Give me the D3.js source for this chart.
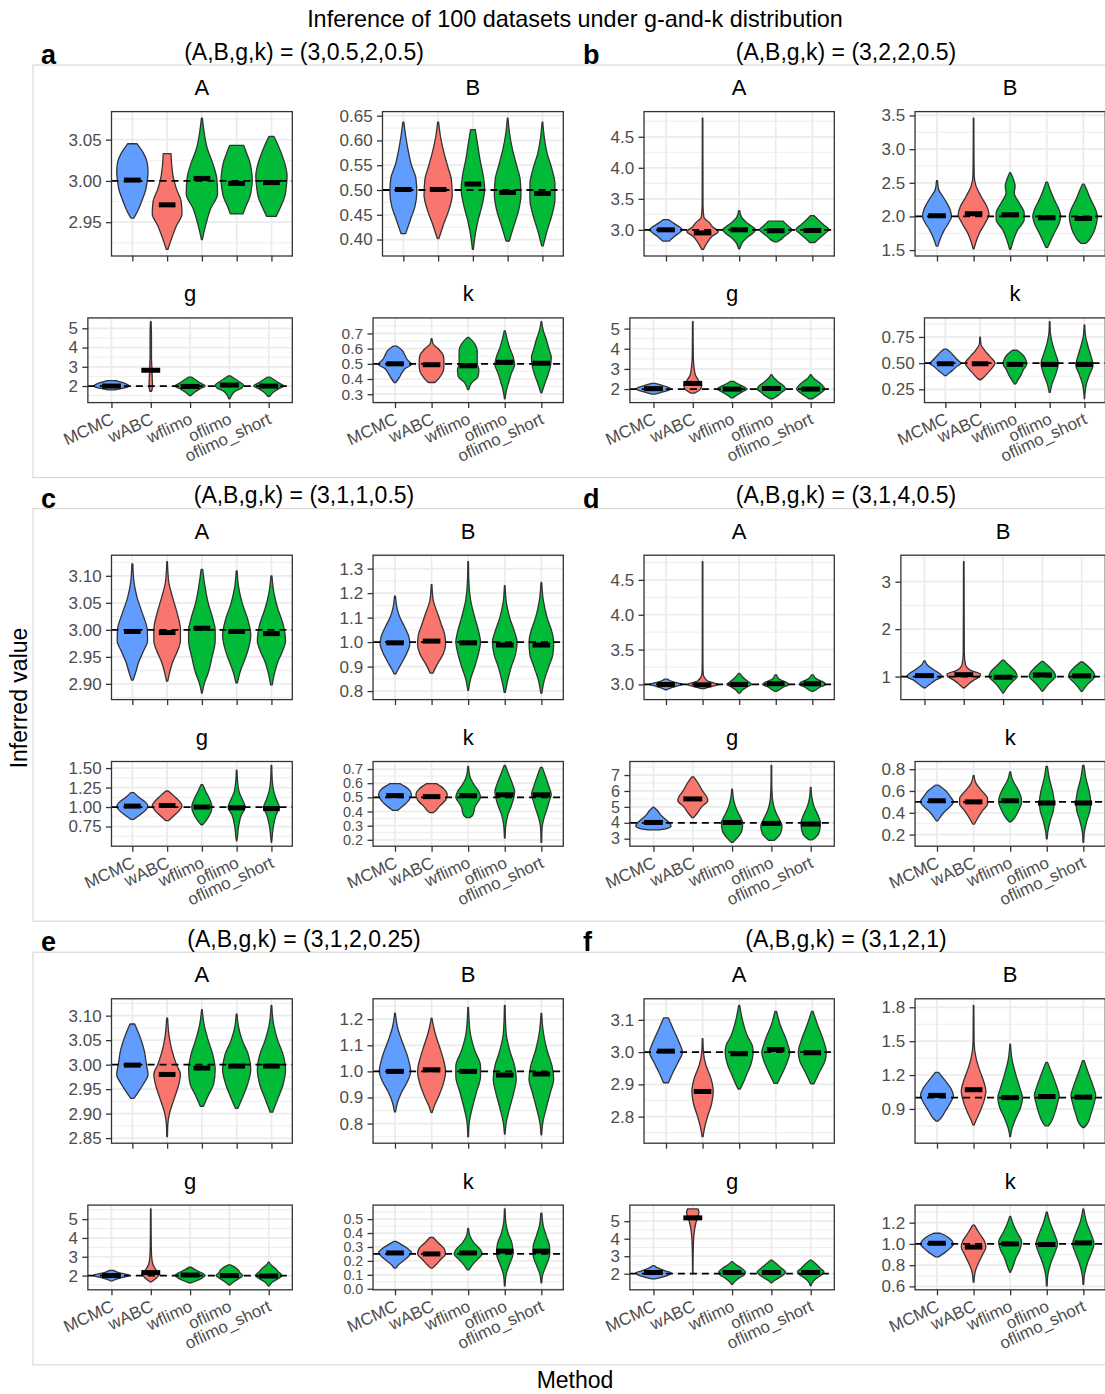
<!DOCTYPE html>
<html><head><meta charset="utf-8">
<script src="https://cdn.jsdelivr.net/npm/d3@7"></script>
<style>
body{margin:0;background:#fff}
svg{display:block}
text{font-family:"Liberation Sans",Arial,Helvetica,sans-serif}
</style>
</head><body>
<svg id="chart" width="1105" height="1394"></svg>
<script>
// ---------------- DATA ----------------
const methods = ["MCMC","wABC","wflimo","oflimo","oflimo_short"];
const params = ["A","B","g","k"];
const panelTags = ["a","b","c","d","e","f"];
const panelTitles = ["(A,B,g,k) = (3,0.5,2,0.5)","(A,B,g,k) = (3,2,2,0.5)","(A,B,g,k) = (3,1,1,0.5)",
                     "(A,B,g,k) = (3,1,4,0.5)","(A,B,g,k) = (3,1,2,0.25)","(A,B,g,k) = (3,1,2,1)"];
const trueValues = [[3,0.5,2,0.5],[3,2,2,0.5],[3,1,1,0.5],[3,1,4,0.5],[3,1,2,0.25],[3,1,2,1]];

// tick labels per panel, per parameter (A,B,g,k)
const ticks_a = [["2.95","3.00","3.05"],["0.40","0.45","0.50","0.55","0.60","0.65"],["2","3","4","5"],["0.3","0.4","0.5","0.6","0.7"]];
const ticks_b = [["3.0","3.5","4.0","4.5"],["1.5","2.0","2.5","3.0","3.5"],["2","3","4","5"],["0.25","0.50","0.75"]];
const ticks_c = [["2.90","2.95","3.00","3.05","3.10"],["0.8","0.9","1.0","1.1","1.2","1.3"],["0.75","1.00","1.25","1.50"],["0.2","0.3","0.4","0.5","0.6","0.7"]];
const ticks_d = [["3.0","3.5","4.0","4.5"],["1","2","3"],["3","4","5","6","7"],["0.2","0.4","0.6","0.8"]];
const ticks_e = [["2.85","2.90","2.95","3.00","3.05","3.10"],["0.8","0.9","1.0","1.1","1.2"],["2","3","4","5"],["0.0","0.1","0.2","0.3","0.4","0.5"]];
const ticks_f = [["2.8","2.9","3.0","3.1"],["0.9","1.2","1.5","1.8"],["2","3","4","5"],["0.6","0.8","1.0","1.2"]];

// medians per panel: [A],[B],[g],[k] x methods
const medians_a = [[3.001,2.971,3.003,2.997,2.998],[0.501,0.501,0.512,0.495,0.493],[2.0,2.82,1.98,2.05,2.0],[0.5,0.494,0.487,0.51,0.504]];
const medians_b = [[3.0,2.95,3.0,2.985,2.99],[2.01,2.04,2.025,1.98,1.97],[2.02,2.28,2.0,2.03,2.0],[0.494,0.494,0.488,0.488,0.488]];
const medians_c = [[2.997,2.995,3.003,2.997,2.993],[0.997,1.004,0.997,0.988,0.988],[1.012,1.02,1.0,0.99,0.98],[0.512,0.505,0.512,0.518,0.518]];
const medians_d = [[3.0,2.995,3.0,3.01,3.01],[1.02,1.04,0.986,1.035,1.015],[4.02,5.5,4.02,3.96,3.92],[0.51,0.5,0.51,0.49,0.49]];
const medians_e = [[2.999,2.98,2.993,2.997,2.997],[1.0,1.006,1.0,0.986,0.99],[2.0,2.16,2.03,2.0,1.98],[0.257,0.25,0.257,0.27,0.27]];
const medians_f = [[3.003,2.878,2.995,3.008,2.998],[1.02,1.07,1.0,1.01,1.005],[2.07,5.19,2.07,2.07,2.07],[1.006,0.97,1.0,0.994,1.009]];

// violin profiles: [value, relative density width] from max to min
const violins_a = [
 [ [[3.045,0.3],[3.034,0.7],[3.022,0.95],[3.011,1.0],[3.0,0.95],[2.989,0.85],[2.978,0.65],[2.966,0.4],[2.955,0.1]],
   [[3.033,0.25],[3.018,0.3],[3.004,0.4],[2.99,0.6],[2.975,0.9],[2.96,0.95],[2.946,0.6],[2.931,0.3],[2.917,0.05]],
   [[3.076,0.03],[3.058,0.15],[3.039,0.35],[3.021,0.7],[3.003,0.95],[2.984,1.0],[2.966,0.55],[2.947,0.25],[2.929,0.03]],
   [[3.043,0.45],[3.033,0.65],[3.022,0.85],[3.012,0.95],[3.001,1.0],[2.991,0.95],[2.981,0.85],[2.97,0.6],[2.96,0.4]],
   [[3.054,0.15],[3.042,0.45],[3.03,0.7],[3.018,0.9],[3.006,1.0],[2.993,0.95],[2.981,0.85],[2.969,0.6],[2.957,0.3]] ],
 [ [[0.637,0.03],[0.609,0.15],[0.581,0.3],[0.552,0.5],[0.524,0.8],[0.496,0.86],[0.468,0.75],[0.44,0.45],[0.412,0.15]],
   [[0.637,0.03],[0.608,0.15],[0.578,0.35],[0.549,0.6],[0.52,0.85],[0.49,0.9],[0.461,0.7],[0.431,0.35],[0.402,0.05]],
   [[0.622,0.15],[0.592,0.3],[0.562,0.45],[0.531,0.65],[0.501,0.75],[0.471,0.6],[0.441,0.35],[0.41,0.15],[0.38,0.03]],
   [[0.645,0.02],[0.614,0.12],[0.583,0.3],[0.552,0.55],[0.521,0.8],[0.49,0.85],[0.459,0.7],[0.428,0.4],[0.397,0.1]],
   [[0.637,0.02],[0.606,0.12],[0.574,0.3],[0.543,0.6],[0.512,0.8],[0.481,0.8],[0.449,0.6],[0.418,0.3],[0.387,0.05]] ],
 [ [[2.28,0.25],[2.2,0.55],[2.1,0.85],[2.0,1.0],[1.9,0.75],[1.8,0.2]],
   [[5.34,0.02],[4.5,0.04],[3.5,0.04],[3.0,0.06],[2.5,0.08],[2.0,0.1],[1.73,0.05]],
   [[2.46,0.1],[2.3,0.35],[2.15,0.6],[2.0,0.85],[1.85,0.55],[1.7,0.3],[1.51,0.05]],
   [[2.53,0.05],[2.35,0.35],[2.2,0.6],[2.05,0.8],[1.9,0.7],[1.75,0.35],[1.55,0.15],[1.34,0.03]],
   [[2.46,0.08],[2.3,0.35],[2.15,0.6],[2.0,0.85],[1.85,0.55],[1.7,0.3],[1.47,0.05]] ],
 [ [[0.617,0.1],[0.587,0.45],[0.557,0.6],[0.527,0.75],[0.497,1.0],[0.467,0.6],[0.437,0.4],[0.407,0.25],[0.377,0.05]],
   [[0.666,0.02],[0.63,0.1],[0.594,0.45],[0.558,0.7],[0.522,0.75],[0.485,0.75],[0.449,0.7],[0.413,0.5],[0.377,0.2]],
   [[0.674,0.05],[0.631,0.4],[0.588,0.55],[0.545,0.55],[0.502,0.55],[0.459,0.65],[0.416,0.6],[0.373,0.2],[0.33,0.03]],
   [[0.717,0.03],[0.661,0.15],[0.605,0.3],[0.549,0.5],[0.494,0.6],[0.438,0.4],[0.382,0.25],[0.326,0.1],[0.27,0.02]],
   [[0.777,0.02],[0.718,0.12],[0.66,0.3],[0.601,0.45],[0.543,0.6],[0.484,0.55],[0.426,0.4],[0.367,0.2],[0.309,0.03]] ]
];
const violins_b = [
 [ [[3.166,0.15],[3.1,0.5],[3.04,0.85],[3.0,1.0],[2.95,0.8],[2.9,0.55],[2.818,0.2]],
   [[4.8,0.015],[4.0,0.02],[3.4,0.025],[3.2,0.08],[3.12,0.4],[3.05,0.6],[2.97,0.95],[2.9,0.6],[2.8,0.3],[2.684,0.05]],
   [[3.31,0.03],[3.2,0.15],[3.12,0.45],[3.05,0.8],[3.0,1.0],[2.95,0.85],[2.88,0.5],[2.8,0.2],[2.695,0.03]],
   [[3.14,0.45],[3.1,0.6],[3.05,0.8],[3.0,1.0],[2.95,0.8],[2.9,0.55],[2.85,0.35],[2.807,0.1]],
   [[3.23,0.1],[3.15,0.4],[3.08,0.7],[3.0,1.0],[2.95,0.8],[2.88,0.5],[2.796,0.15]] ],
 [ [[2.53,0.03],[2.4,0.1],[2.3,0.35],[2.2,0.6],[2.1,0.8],[2.0,0.88],[1.9,0.7],[1.8,0.45],[1.7,0.25],[1.56,0.05]],
   [[3.46,0.015],[3.0,0.02],[2.6,0.04],[2.45,0.15],[2.3,0.45],[2.15,0.8],[2.03,0.94],[1.9,0.7],[1.75,0.35],[1.6,0.12],[1.52,0.03]],
   [[2.65,0.03],[2.55,0.2],[2.45,0.3],[2.35,0.25],[2.2,0.55],[2.05,0.85],[1.95,0.85],[1.8,0.45],[1.65,0.2],[1.51,0.03]],
   [[2.51,0.05],[2.4,0.2],[2.25,0.45],[2.1,0.75],[2.0,0.85],[1.9,0.75],[1.75,0.45],[1.62,0.2],[1.54,0.05]],
   [[2.48,0.05],[2.4,0.2],[2.25,0.45],[2.1,0.75],[2.0,0.85],[1.9,0.8],[1.75,0.6],[1.65,0.35],[1.6,0.15]] ],
 [ [[2.28,0.1],[2.2,0.45],[2.1,0.8],[2.0,1.0],[1.9,0.7],[1.8,0.3],[1.75,0.1]],
   [[5.34,0.015],[4.5,0.02],[3.6,0.03],[3.1,0.07],[2.7,0.15],[2.4,0.35],[2.2,0.5],[2.0,0.45],[1.8,0.1]],
   [[2.38,0.1],[2.25,0.35],[2.1,0.7],[2.0,0.85],[1.9,0.65],[1.75,0.35],[1.56,0.05]],
   [[2.71,0.03],[2.55,0.15],[2.35,0.4],[2.15,0.7],[2.0,0.8],[1.85,0.6],[1.7,0.4],[1.52,0.08]],
   [[2.71,0.03],[2.55,0.15],[2.35,0.45],[2.15,0.7],[2.0,0.8],[1.85,0.65],[1.7,0.4],[1.52,0.1]] ],
 [ [[0.633,0.1],[0.6,0.35],[0.56,0.6],[0.52,0.85],[0.5,1.0],[0.47,0.75],[0.43,0.45],[0.4,0.2],[0.38,0.05]],
   [[0.747,0.02],[0.68,0.05],[0.62,0.3],[0.56,0.65],[0.5,0.95],[0.45,0.75],[0.4,0.45],[0.36,0.2],[0.34,0.03]],
   [[0.623,0.15],[0.58,0.5],[0.53,0.7],[0.49,0.75],[0.44,0.55],[0.39,0.4],[0.34,0.2],[0.302,0.05]],
   [[0.895,0.02],[0.8,0.04],[0.7,0.15],[0.6,0.35],[0.5,0.55],[0.4,0.4],[0.3,0.15],[0.222,0.03]],
   [[0.864,0.02],[0.75,0.08],[0.65,0.25],[0.55,0.45],[0.48,0.55],[0.4,0.35],[0.3,0.12],[0.2,0.03],[0.16,0.01]] ]
];
const violins_c = [
 [ [[3.122,0.03],[3.09,0.1],[3.06,0.3],[3.03,0.65],[3.0,0.95],[2.98,0.97],[2.96,0.7],[2.94,0.4],[2.92,0.2],[2.907,0.05]],
   [[3.126,0.02],[3.09,0.1],[3.06,0.35],[3.03,0.65],[3.0,0.85],[2.98,0.85],[2.96,0.65],[2.94,0.35],[2.92,0.15],[2.905,0.04]],
   [[3.112,0.05],[3.08,0.2],[3.05,0.4],[3.02,0.7],[3.0,0.85],[2.98,0.85],[2.95,0.65],[2.92,0.4],[2.9,0.15],[2.883,0.02]],
   [[3.109,0.03],[3.08,0.12],[3.05,0.35],[3.02,0.7],[2.99,0.9],[2.96,0.7],[2.94,0.45],[2.92,0.2],[2.902,0.05]],
   [[3.1,0.03],[3.07,0.15],[3.04,0.4],[3.01,0.75],[2.98,0.9],[2.96,0.7],[2.94,0.4],[2.92,0.2],[2.898,0.05]] ],
 [ [[1.188,0.03],[1.14,0.12],[1.1,0.3],[1.06,0.6],[1.02,0.85],[0.99,0.9],[0.96,0.75],[0.92,0.45],[0.89,0.2],[0.87,0.05]],
   [[1.235,0.02],[1.17,0.1],[1.12,0.35],[1.07,0.6],[1.03,0.8],[0.99,0.85],[0.95,0.7],[0.91,0.35],[0.873,0.08]],
   [[1.328,0.02],[1.25,0.04],[1.17,0.15],[1.1,0.4],[1.04,0.65],[1.0,0.75],[0.96,0.65],[0.9,0.4],[0.85,0.15],[0.803,0.02]],
   [[1.23,0.02],[1.16,0.1],[1.1,0.3],[1.04,0.6],[1.0,0.75],[0.95,0.65],[0.9,0.4],[0.85,0.2],[0.795,0.03]],
   [[1.244,0.02],[1.17,0.12],[1.1,0.35],[1.04,0.65],[1.0,0.75],[0.95,0.7],[0.9,0.45],[0.85,0.2],[0.792,0.03]] ],
 [ [[1.185,0.1],[1.12,0.45],[1.06,0.85],[1.01,1.0],[0.96,0.85],[0.9,0.5],[0.843,0.1]],
   [[1.206,0.08],[1.14,0.45],[1.07,0.8],[1.02,0.95],[0.96,0.8],[0.9,0.5],[0.827,0.1]],
   [[1.288,0.05],[1.2,0.25],[1.1,0.5],[1.0,0.65],[0.9,0.5],[0.82,0.25],[0.773,0.05]],
   [[1.474,0.02],[1.35,0.05],[1.2,0.15],[1.08,0.4],[1.0,0.55],[0.9,0.3],[0.75,0.12],[0.6,0.04],[0.567,0.01]],
   [[1.535,0.02],[1.35,0.05],[1.2,0.15],[1.08,0.35],[1.0,0.5],[0.9,0.3],[0.75,0.12],[0.6,0.04],[0.547,0.01]] ],
 [ [[0.597,0.3],[0.56,0.8],[0.52,1.0],[0.48,0.85],[0.44,0.5],[0.408,0.15]],
   [[0.597,0.3],[0.56,0.75],[0.52,0.95],[0.48,0.85],[0.44,0.5],[0.4,0.2],[0.392,0.1]],
   [[0.719,0.02],[0.65,0.1],[0.59,0.35],[0.54,0.65],[0.5,0.75],[0.46,0.55],[0.43,0.4],[0.4,0.35],[0.37,0.25],[0.357,0.1]],
   [[0.726,0.03],[0.66,0.25],[0.6,0.45],[0.54,0.6],[0.5,0.55],[0.44,0.4],[0.38,0.2],[0.3,0.06],[0.212,0.02]],
   [[0.712,0.05],[0.65,0.25],[0.58,0.45],[0.52,0.6],[0.48,0.5],[0.42,0.35],[0.35,0.15],[0.28,0.04],[0.182,0.02]] ]
];
const violins_d = [
 [ [[3.076,0.1],[3.04,0.4],[3.01,0.9],[3.0,1.0],[2.98,0.7],[2.95,0.3],[2.924,0.05]],
   [[4.76,0.015],[4.0,0.015],[3.3,0.02],[3.15,0.04],[3.05,0.3],[3.0,0.95],[2.97,0.5],[2.94,0.1]],
   [[3.157,0.05],[3.1,0.25],[3.04,0.55],[3.0,0.75],[2.96,0.45],[2.92,0.2],[2.877,0.05]],
   [[3.138,0.05],[3.08,0.2],[3.03,0.65],[3.0,0.8],[2.96,0.45],[2.92,0.2],[2.9,0.05]],
   [[3.138,0.05],[3.08,0.25],[3.03,0.7],[3.0,0.8],[2.96,0.45],[2.92,0.2],[2.9,0.05]] ],
 [ [[1.333,0.03],[1.25,0.15],[1.15,0.5],[1.05,0.9],[1.0,1.0],[0.92,0.6],[0.85,0.35],[0.764,0.05]],
   [[3.42,0.015],[2.5,0.02],[1.5,0.03],[1.25,0.1],[1.12,0.45],[1.05,0.95],[1.0,0.9],[0.92,0.55],[0.85,0.3],[0.764,0.05]],
   [[1.347,0.05],[1.25,0.3],[1.1,0.7],[1.0,0.8],[0.9,0.55],[0.8,0.3],[0.7,0.1],[0.653,0.02]],
   [[1.32,0.05],[1.2,0.4],[1.1,0.65],[1.0,0.75],[0.9,0.5],[0.8,0.25],[0.694,0.03]],
   [[1.31,0.05],[1.2,0.4],[1.1,0.65],[1.0,0.75],[0.9,0.5],[0.8,0.25],[0.69,0.03]] ],
 [ [[4.98,0.03],[4.8,0.2],[4.5,0.4],[4.2,0.7],[4.0,0.9],[3.8,1.0],[3.65,0.8],[3.55,0.3]],
   [[6.89,0.05],[6.5,0.3],[6.0,0.55],[5.6,0.8],[5.4,0.85],[5.0,0.5],[4.6,0.25],[4.33,0.05]],
   [[6.11,0.02],[5.5,0.08],[5.0,0.2],[4.5,0.4],[4.0,0.6],[3.5,0.55],[3.0,0.25],[2.77,0.05]],
   [[7.61,0.015],[6.5,0.02],[5.5,0.06],[4.8,0.2],[4.2,0.45],[3.8,0.6],[3.3,0.5],[2.89,0.15]],
   [[6.22,0.02],[5.5,0.08],[5.0,0.2],[4.5,0.4],[4.0,0.55],[3.5,0.5],[3.1,0.3],[2.93,0.1]] ],
 [ [[0.653,0.1],[0.6,0.55],[0.55,0.8],[0.5,1.0],[0.45,0.75],[0.4,0.4],[0.35,0.15],[0.327,0.05]],
   [[0.744,0.02],[0.67,0.15],[0.6,0.5],[0.53,0.85],[0.48,0.85],[0.42,0.55],[0.35,0.25],[0.297,0.05]],
   [[0.774,0.03],[0.7,0.15],[0.62,0.45],[0.55,0.65],[0.5,0.7],[0.45,0.6],[0.4,0.45],[0.35,0.25],[0.318,0.05]],
   [[0.826,0.04],[0.72,0.15],[0.6,0.35],[0.5,0.45],[0.42,0.4],[0.32,0.2],[0.22,0.06],[0.16,0.02]],
   [[0.835,0.04],[0.72,0.15],[0.6,0.35],[0.5,0.45],[0.42,0.4],[0.32,0.2],[0.22,0.06],[0.129,0.02]] ]
];
const violins_e = [
 [ [[3.083,0.15],[3.06,0.45],[3.03,0.75],[3.0,0.9],[2.98,1.0],[2.96,0.7],[2.945,0.4],[2.931,0.1]],
   [[3.095,0.03],[3.06,0.12],[3.03,0.3],[3.0,0.6],[2.98,0.85],[2.96,0.75],[2.93,0.45],[2.9,0.15],[2.88,0.05],[2.853,0.02]],
   [[3.112,0.02],[3.08,0.15],[3.05,0.4],[3.02,0.7],[2.99,0.85],[2.96,0.75],[2.94,0.45],[2.915,0.1]],
   [[3.103,0.03],[3.08,0.1],[3.05,0.35],[3.02,0.75],[2.99,0.9],[2.96,0.7],[2.935,0.4],[2.911,0.08]],
   [[3.121,0.02],[3.08,0.15],[3.05,0.4],[3.02,0.75],[2.99,0.9],[2.96,0.75],[2.93,0.4],[2.903,0.08]] ],
 [ [[1.223,0.02],[1.17,0.15],[1.12,0.4],[1.06,0.75],[1.0,0.95],[0.96,0.75],[0.92,0.4],[0.88,0.15],[0.845,0.03]],
   [[1.204,0.02],[1.15,0.2],[1.1,0.45],[1.05,0.7],[1.0,0.85],[0.95,0.7],[0.9,0.4],[0.86,0.12],[0.842,0.03]],
   [[1.245,0.02],[1.15,0.12],[1.08,0.4],[1.02,0.75],[0.98,0.75],[0.92,0.5],[0.86,0.25],[0.8,0.06],[0.75,0.02]],
   [[1.253,0.02],[1.15,0.08],[1.08,0.3],[1.02,0.6],[0.97,0.7],[0.92,0.55],[0.86,0.3],[0.8,0.08],[0.76,0.02]],
   [[1.222,0.02],[1.15,0.12],[1.08,0.35],[1.02,0.65],[0.97,0.75],[0.92,0.55],[0.86,0.3],[0.8,0.08],[0.757,0.02]] ],
 [ [[2.28,0.1],[2.15,0.45],[2.05,0.95],[2.0,1.0],[1.9,0.6],[1.8,0.25],[1.72,0.05]],
   [[5.54,0.015],[4.5,0.02],[3.5,0.03],[3.0,0.05],[2.6,0.12],[2.3,0.3],[2.1,0.5],[1.9,0.35],[1.67,0.05]],
   [[2.45,0.05],[2.3,0.3],[2.15,0.65],[2.0,0.85],[1.85,0.65],[1.7,0.3],[1.62,0.08]],
   [[2.57,0.05],[2.45,0.3],[2.3,0.5],[2.15,0.6],[2.0,0.75],[1.85,0.55],[1.7,0.3],[1.5,0.03]],
   [[2.71,0.03],[2.55,0.15],[2.4,0.35],[2.2,0.55],[2.0,0.75],[1.85,0.55],[1.65,0.2],[1.45,0.03]] ],
 [ [[0.34,0.05],[0.32,0.35],[0.29,0.75],[0.26,1.0],[0.23,0.8],[0.2,0.5],[0.17,0.2],[0.148,0.05]],
   [[0.368,0.1],[0.33,0.4],[0.29,0.75],[0.25,0.85],[0.21,0.55],[0.17,0.25],[0.148,0.05]],
   [[0.434,0.02],[0.38,0.1],[0.33,0.35],[0.28,0.75],[0.25,0.85],[0.21,0.55],[0.17,0.25],[0.136,0.05]],
   [[0.573,0.02],[0.48,0.06],[0.4,0.2],[0.32,0.45],[0.25,0.5],[0.18,0.3],[0.1,0.08],[0.02,0.02]],
   [[0.543,0.03],[0.45,0.12],[0.38,0.3],[0.3,0.5],[0.24,0.5],[0.17,0.3],[0.1,0.08],[0.043,0.02]] ]
];
const violins_f = [
 [ [[3.106,0.15],[3.07,0.45],[3.03,0.8],[3.0,1.0],[2.97,0.75],[2.94,0.45],[2.905,0.15]],
   [[3.042,0.02],[3.0,0.05],[2.96,0.2],[2.92,0.5],[2.88,0.65],[2.84,0.55],[2.8,0.3],[2.76,0.1],[2.738,0.03]],
   [[3.145,0.03],[3.1,0.2],[3.05,0.5],[3.02,0.8],[3.0,0.85],[2.96,0.7],[2.93,0.45],[2.9,0.2],[2.885,0.05]],
   [[3.126,0.05],[3.08,0.3],[3.05,0.55],[3.02,0.75],[3.0,0.85],[2.97,0.7],[2.94,0.45],[2.903,0.1]],
   [[3.126,0.05],[3.08,0.35],[3.04,0.65],[3.0,0.85],[2.97,0.75],[2.94,0.45],[2.902,0.1]] ],
 [ [[1.224,0.1],[1.15,0.5],[1.08,0.85],[1.02,1.0],[0.95,0.8],[0.88,0.5],[0.82,0.25],[0.792,0.05]],
   [[1.817,0.015],[1.5,0.03],[1.35,0.15],[1.25,0.35],[1.15,0.6],[1.06,0.75],[0.98,0.65],[0.88,0.4],[0.8,0.15],[0.757,0.03]],
   [[1.473,0.02],[1.35,0.1],[1.2,0.35],[1.08,0.6],[1.0,0.75],[0.92,0.65],[0.82,0.35],[0.72,0.1],[0.655,0.02]],
   [[1.312,0.05],[1.2,0.35],[1.1,0.6],[1.02,0.75],[0.95,0.65],[0.85,0.45],[0.78,0.25],[0.751,0.1]],
   [[1.327,0.05],[1.2,0.35],[1.1,0.6],[1.02,0.75],[0.95,0.65],[0.85,0.45],[0.77,0.25],[0.736,0.05]] ],
 [ [[2.46,0.05],[2.3,0.3],[2.15,0.7],[2.05,1.0],[1.95,0.9],[1.8,0.5],[1.7,0.1]],
   [[5.7,0.3],[5.5,0.35],[5.3,0.3],[5.0,0.2],[4.5,0.1],[4.0,0.05],[3.5,0.03],[3.0,0.02],[2.0,0.01]],
   [[2.69,0.03],[2.5,0.25],[2.3,0.55],[2.1,0.75],[1.95,0.7],[1.75,0.4],[1.55,0.15],[1.39,0.03]],
   [[2.78,0.03],[2.55,0.3],[2.3,0.6],[2.1,0.8],[1.95,0.7],[1.75,0.4],[1.6,0.15],[1.48,0.03]],
   [[2.78,0.03],[2.55,0.3],[2.3,0.55],[2.1,0.75],[1.95,0.65],[1.75,0.35],[1.5,0.1],[1.3,0.02]] ],
 [ [[1.1,0.2],[1.07,0.6],[1.03,0.9],[1.0,1.0],[0.96,0.8],[0.92,0.5],[0.878,0.1]],
   [[1.177,0.05],[1.1,0.35],[1.03,0.65],[0.97,0.75],[0.9,0.55],[0.82,0.3],[0.74,0.1],[0.64,0.02]],
   [[1.259,0.03],[1.18,0.2],[1.1,0.45],[1.02,0.7],[0.95,0.6],[0.87,0.35],[0.78,0.15],[0.732,0.02]],
   [[1.298,0.03],[1.2,0.2],[1.1,0.45],[1.0,0.65],[0.92,0.5],[0.82,0.25],[0.7,0.06],[0.604,0.02]],
   [[1.329,0.02],[1.2,0.2],[1.1,0.45],[1.0,0.65],[0.92,0.5],[0.82,0.25],[0.7,0.06],[0.619,0.02]] ]
];

const allViolins = [violins_a, violins_b, violins_c, violins_d, violins_e, violins_f];
const allMedians = [medians_a, medians_b, medians_c, medians_d, medians_e, medians_f];
const allTicks = [ticks_a, ticks_b, ticks_c, ticks_d, ticks_e, ticks_f];

// ---------------- STYLE / LAYOUT ----------------
const methodColors = ["#619CFF","#F8766D","#00BA38","#00BA38","#00BA38"];
const FONT = '"Liberation Sans",Arial,Helvetica,sans-serif';
const TICK_FS = 17, TITLE_FS = 23, STRIP_FS = 22, TAG_FS = 27;
const X0 = 33, Y0 = 65, BOX_W = 542, BOX_H = 412.6, ROW_STEP = 443.6, CELL_W = 271, CELL_H = 206.3;

const svg = d3.select("#chart");
svg.append("rect").attr("width",1105).attr("height",1394).attr("fill","#fff");

function measure(str, size) {
  const t = svg.append("text").style("font-size", size + "px").style("font-family", FONT).text(str);
  const w = t.node().getComputedTextLength();
  t.remove();
  return w;
}

// main title and axis titles
svg.append("text").attr("x",575).attr("y",27).attr("text-anchor","middle")
  .style("font-size","23.4px").text("Inference of 100 datasets under g-and-k distribution");
svg.append("text").attr("x",575).attr("y",1388).attr("text-anchor","middle")
  .style("font-size",TITLE_FS+"px").text("Method");
svg.append("text").attr("transform","translate(27,698) rotate(-90)").attr("text-anchor","middle")
  .style("font-size",TITLE_FS+"px").text("Inferred value");

// panel row boxes
for (let r = 0; r < 3; r++) {
  svg.append("rect").attr("x",X0).attr("y",Y0 + r*ROW_STEP).attr("width",2*BOX_W).attr("height",BOX_H)
    .attr("fill","none").attr("stroke","#d9d9d9").attr("stroke-width",1.2);
}

panelTags.forEach((tag, p) => {
  const col = p % 2, row = Math.floor(p / 2);
  const bx = X0 + col*BOX_W, by = Y0 + row*ROW_STEP;
  svg.append("text").attr("x",bx + 8).attr("y",by - 1)
    .style("font-size",TAG_FS+"px").style("font-weight","bold").text(tag);
  svg.append("text").attr("x",bx + BOX_W/2).attr("y",by - 5.5).attr("text-anchor","middle")
    .style("font-size",TITLE_FS+"px").text(panelTitles[p]);

  params.forEach((par, s) => {
    const cx = bx + (s % 2)*CELL_W, cy = by + Math.floor(s / 2)*CELL_H;
    const bottomRow = s >= 2;
    const labels = allTicks[p][s];
    const vals = labels.map(Number);
    const lw = d3.max(labels, l => measure(l, TICK_FS));
    const L = cx + 45.4 + lw, R = cx + CELL_W - 11.7;
    const T = cy + 46.6, B = bottomRow ? cy + 131.3 : cy + 191;
    const viol = allViolins[p][s], meds = allMedians[p][s], truth = trueValues[p][s];

    const ext = d3.extent(viol.flat().map(d => d[0]).concat([truth]));
    const pad = (ext[1] - ext[0]) * 0.05;
    const y = d3.scaleLinear().domain([ext[0] - pad, ext[1] + pad]).range([B, T]);
    const x = d3.scalePoint().domain(methods).range([L, R]).padding(0.6);
    const step = x.step();

    // tick label size: shrink slightly only where labels are packed tighter than the text height
    const spacing = Math.abs(y(vals[0]) - y(vals[1]));
    const tfs = Math.min(TICK_FS, spacing * 1.02);

    const g = svg.append("g");
    // subplot title
    g.append("text").attr("x",(L + R)/2).attr("y",cy + 30).attr("text-anchor","middle")
      .style("font-size",STRIP_FS+"px").text(par);
    // grid
    const dstep = vals[1] - vals[0];
    const minor = [];
    for (let i = -1; i < vals.length; i++) {
      const v = vals[0] + (i + 0.5)*dstep;
      if (v >= y.domain()[0] && v <= y.domain()[1]) minor.push(v);
    }
    g.selectAll(".mn").data(minor).join("line")
      .attr("x1",L).attr("x2",R).attr("y1",d => y(d)).attr("y2",d => y(d))
      .attr("stroke","#ebebeb").attr("stroke-width",0.9);
    g.selectAll(".mj").data(vals).join("line")
      .attr("x1",L).attr("x2",R).attr("y1",d => y(d)).attr("y2",d => y(d))
      .attr("stroke","#ebebeb").attr("stroke-width",1.7);
    g.selectAll(".mx").data(methods).join("line")
      .attr("x1",d => x(d)).attr("x2",d => x(d)).attr("y1",T).attr("y2",B)
      .attr("stroke","#ebebeb").attr("stroke-width",1.7);

    // violins
    const hw = step * 0.45;
    methods.forEach((m, i) => {
      const xc = x(m);
      const area = d3.area()
        .y(d => y(d[0]))
        .x0(d => xc - hw*d[1])
        .x1(d => xc + hw*d[1])
        .curve(d3.curveMonotoneY);
      g.append("path").attr("d", area(viol[i]))
        .attr("fill", methodColors[i]).attr("stroke","#333333").attr("stroke-width",1.3)
        .attr("stroke-linejoin","round");
    });

    // true value
    g.append("line").attr("x1",L).attr("x2",R).attr("y1",y(truth)).attr("y2",y(truth))
      .attr("stroke","#000").attr("stroke-width",1.8).attr("stroke-dasharray","7,5");

    // medians
    const bw = step * 0.48;
    g.selectAll(".med").data(meds).join("rect")
      .attr("x",(d, i) => x(methods[i]) - bw/2).attr("y",d => y(d) - 2.5)
      .attr("width",bw).attr("height",5).attr("fill","#000");

    // border
    g.append("rect").attr("x",L).attr("y",T).attr("width",R - L).attr("height",B - T)
      .attr("fill","none").attr("stroke","#333333").attr("stroke-width",1.3);

    // axes
    const ya = g.append("g").attr("transform",`translate(${L},0)`)
      .call(d3.axisLeft(y).tickValues(vals).tickFormat((d, i) => labels[i]).tickSize(5.5).tickPadding(4.4));
    ya.select(".domain").remove();
    ya.selectAll("line").attr("stroke","#333333").attr("stroke-width",1.3);
    ya.selectAll("text").attr("fill","#4d4d4d").style("font-size",tfs+"px").style("font-family",FONT);

    const xa = g.append("g").attr("transform",`translate(0,${B})`)
      .call(d3.axisBottom(x).tickSize(5.5).tickFormat(bottomRow ? (d => d) : (() => "")));
    xa.select(".domain").remove();
    xa.selectAll("line").attr("stroke","#333333").attr("stroke-width",1.3);
    xa.selectAll("text").attr("fill","#4d4d4d").style("font-size",TICK_FS+"px").style("font-family",FONT)
      .attr("x",0).attr("y",0).attr("dy",0).attr("text-anchor","end")
      .attr("transform","translate(3,20.5) rotate(-25)");
  });
});
</script>
</body></html>
